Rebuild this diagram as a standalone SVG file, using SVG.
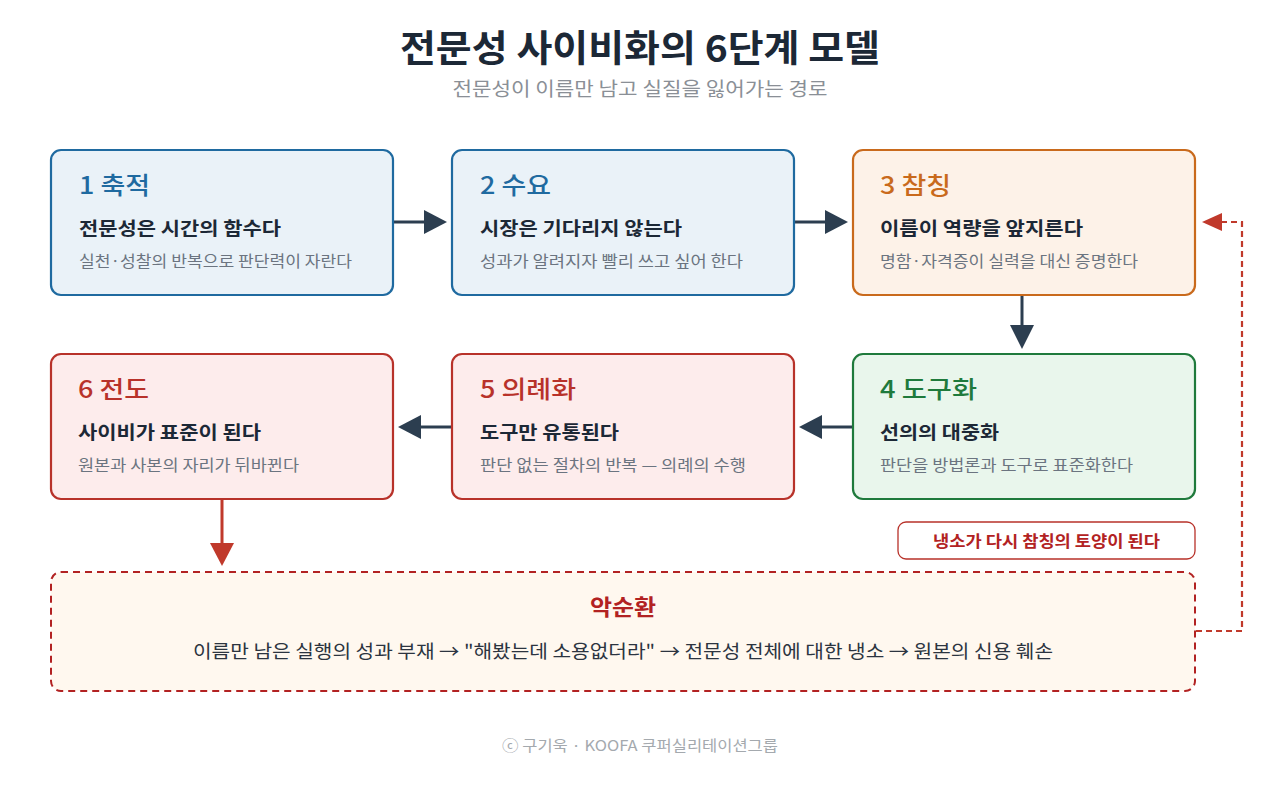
<svg xmlns="http://www.w3.org/2000/svg" width="1280" height="785" viewBox="0 0 1280 785">
<style>
text{font-family:"Noto Sans CJK KR","Noto Sans",sans-serif}
.ttl{font-size:37px;font-weight:700;fill:#1c2836;text-anchor:middle}
.sub{font-size:19px;fill:#8a8f96;text-anchor:middle}
.nt{font-size:24px;font-weight:500}
.nb{font-size:18.5px;font-weight:700;fill:#1c2836}
.nd{font-size:15.5px;fill:#6b7480}
.box{stroke-width:2.2}
.blue{fill:#eaf2f8;stroke:#1f6aa0}
.orange{fill:#fdf2e8;stroke:#c96a1c}
.green{fill:#e9f6ec;stroke:#1f7a3c}
.red{fill:#fdecec;stroke:#b8322a}
.dk{stroke:#2c3e50;stroke-width:3;fill:none}
.rd{stroke:#c0392b;stroke-width:3;fill:none}
</style>
<rect width="1280" height="785" fill="#ffffff"/>
<text class="ttl" x="640" y="62" textLength="480" lengthAdjust="spacingAndGlyphs">전문성 사이비화의 6단계 모델</text>
<text class="sub" x="640" y="96" textLength="375" lengthAdjust="spacingAndGlyphs">전문성이 이름만 남고 실질을 잃어가는 경로</text>

<g id="connectors">
<line class="dk" x1="394" y1="222" x2="428" y2="222"/><path d="M424,210 L447,222 L424,234 z" fill="#2c3e50"/>
<line class="dk" x1="795" y1="222" x2="829" y2="222"/><path d="M825,210 L848,222 L825,234 z" fill="#2c3e50"/>
<line class="dk" x1="1022" y1="296" x2="1022" y2="328"/><path d="M1010,325 L1022,349 L1034,325 z" fill="#2c3e50"/>
<line class="dk" x1="852" y1="427" x2="820" y2="427"/><path d="M822,415 L799,427 L822,439 z" fill="#2c3e50"/>
<line class="dk" x1="451" y1="427" x2="419" y2="427"/><path d="M421,415 L398,427 L421,439 z" fill="#2c3e50"/>
<line class="rd" x1="222" y1="500" x2="222" y2="546"/><path d="M210,543 L222,566 L234,543 z" fill="#c0392b"/>
<polyline points="1196,631 1242,631 1242,222 1222,222" fill="none" stroke="#c0392b" stroke-width="2.2" stroke-dasharray="6,4"/>
<path d="M1222,213 L1202,222 L1222,231 z" fill="#c0392b"/>
</g>

<g id="node1">
<rect class="box blue" x="51" y="150" width="342" height="145" rx="10"/>
<text class="nt" x="79" y="194" fill="#1f6aa0" textLength="71" lengthAdjust="spacingAndGlyphs">1 축적</text>
<text class="nb" x="79" y="235" textLength="202" lengthAdjust="spacingAndGlyphs">전문성은 시간의 함수다</text>
<text class="nd" x="79" y="267" textLength="273" lengthAdjust="spacingAndGlyphs">실천·성찰의 반복으로 판단력이 자란다</text>
</g>
<g id="node2">
<rect class="box blue" x="452" y="150" width="342" height="145" rx="10"/>
<text class="nt" x="480" y="194" fill="#1f6aa0" textLength="71" lengthAdjust="spacingAndGlyphs">2 수요</text>
<text class="nb" x="480" y="235" textLength="202" lengthAdjust="spacingAndGlyphs">시장은 기다리지 않는다</text>
<text class="nd" x="480" y="267" textLength="263" lengthAdjust="spacingAndGlyphs">성과가 알려지자 빨리 쓰고 싶어 한다</text>
</g>
<g id="node3">
<rect class="box orange" x="853" y="150" width="342" height="145" rx="10"/>
<text class="nt" x="880" y="194" fill="#c96a1c" textLength="71" lengthAdjust="spacingAndGlyphs">3 참칭</text>
<text class="nb" x="880" y="235" textLength="203" lengthAdjust="spacingAndGlyphs">이름이 역량을 앞지른다</text>
<text class="nd" x="880" y="267" textLength="258" lengthAdjust="spacingAndGlyphs">명함·자격증이 실력을 대신 증명한다</text>
</g>
<g id="node4">
<rect class="box green" x="853" y="354" width="342" height="145" rx="10"/>
<text class="nt" x="880" y="398" fill="#1f7a3c" textLength="97" lengthAdjust="spacingAndGlyphs">4 도구화</text>
<text class="nb" x="880" y="439" textLength="119" lengthAdjust="spacingAndGlyphs">선의의 대중화</text>
<text class="nd" x="880" y="471" textLength="253" lengthAdjust="spacingAndGlyphs">판단을 방법론과 도구로 표준화한다</text>
</g>
<g id="node5">
<rect class="box red" x="452" y="354" width="342" height="145" rx="10"/>
<text class="nt" x="480" y="398" fill="#b8322a" textLength="96" lengthAdjust="spacingAndGlyphs">5 의례화</text>
<text class="nb" x="480" y="439" textLength="139" lengthAdjust="spacingAndGlyphs">도구만 유통된다</text>
<text class="nd" x="480" y="471" textLength="266" lengthAdjust="spacingAndGlyphs">판단 없는 절차의 반복 — 의례의 수행</text>
</g>
<g id="node6">
<rect class="box red" x="51" y="354" width="342" height="145" rx="10"/>
<text class="nt" x="78" y="398" fill="#b8322a" textLength="71" lengthAdjust="spacingAndGlyphs">6 전도</text>
<text class="nb" x="78" y="439" textLength="183" lengthAdjust="spacingAndGlyphs">사이비가 표준이 된다</text>
<text class="nd" x="78" y="471" textLength="221" lengthAdjust="spacingAndGlyphs">원본과 사본의 자리가 뒤바뀐다</text>
</g>
<g id="label-cynicism">
<rect x="898" y="522" width="297" height="37" rx="8" fill="#ffffff" stroke="#b8322a" stroke-width="1.3"/>
<text x="1046.5" y="547" font-size="16" font-weight="700" fill="#b22222" text-anchor="middle" textLength="227" lengthAdjust="spacingAndGlyphs">냉소가 다시 참칭의 토양이 된다</text>
</g>
<g id="vicious-cycle">
<rect x="51" y="572" width="1144" height="119" rx="10" fill="#fff8ef" stroke="#b22222" stroke-width="2" stroke-dasharray="7,5"/>
<text x="623" y="615" font-size="22" font-weight="700" fill="#b22222" text-anchor="middle" textLength="66" lengthAdjust="spacingAndGlyphs">악순환</text>
<text x="623" y="658" font-size="18.5" fill="#2c3440" text-anchor="middle" textLength="860" lengthAdjust="spacingAndGlyphs">이름만 남은 실행의 성과 부재 → "해봤는데 소용없더라" → 전문성 전체에 대한 냉소 → 원본의 신용 훼손</text>
</g>
<text x="640" y="751" font-size="15" fill="#a4a9ae" text-anchor="middle" textLength="276" lengthAdjust="spacingAndGlyphs">ⓒ 구기욱 · KOOFA 쿠퍼실리테이션그룹</text>
</svg>
